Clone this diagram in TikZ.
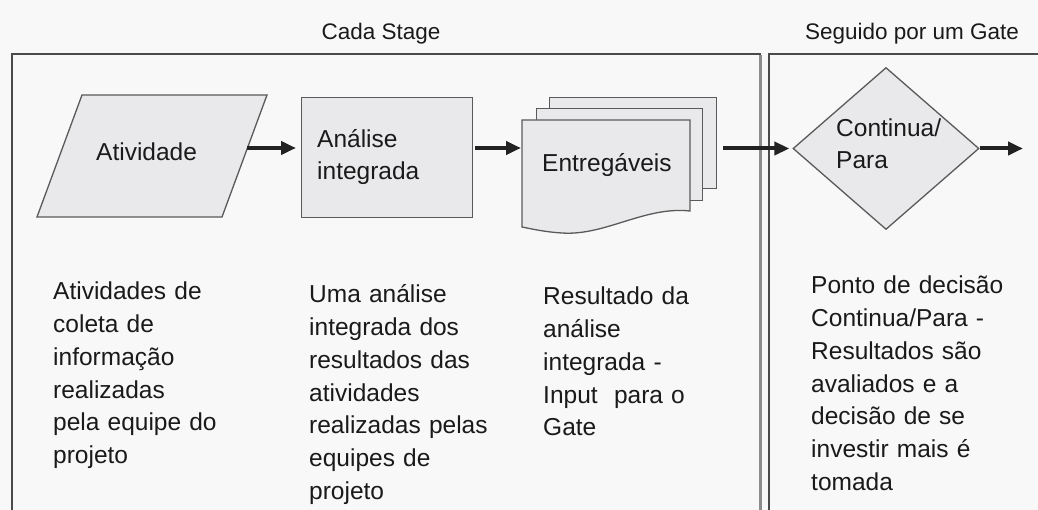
\documentclass[tikz,border=0pt]{standalone}
\usepackage{fontspec}
\setmainfont{Liberation Sans}
\usetikzlibrary{arrows.meta,shapes.geometric}
\definecolor{bg}{HTML}{F8F8F8}
\definecolor{shapefill}{HTML}{E9E9EB}
\definecolor{shapeline}{HTML}{5A5A5A}
\definecolor{frameline}{HTML}{4A4A4A}
\definecolor{framelight}{HTML}{8C8C8C}
\definecolor{ink}{HTML}{1A1A1A}
\definecolor{arrowc}{HTML}{222222}
\begin{document}
\begin{tikzpicture}[x=1pt,y=-1pt,
  shp/.style={draw=shapeline,fill=shapefill,line width=1.3pt},
  boxshape/.style={shp,rectangle,inner sep=0pt,anchor=north west},
  lbl/.style={anchor=base west,inner sep=0pt,text=ink,font=\fontsize{24.5}{32.7}\selectfont,align=left,text width=215pt},
  slbl/.style={anchor=base west,inner sep=0pt,text=ink,font=\fontsize{24.5}{32}\selectfont,align=left,text width=150pt},
  ttl/.style={anchor=base,inner sep=0pt,text=ink,font=\fontsize{22.5}{27}\selectfont},
  flow/.style={draw=arrowc,line width=4pt,-{Triangle[length=15pt,width=13pt]}},
  frame/.style={draw=frameline,line width=2pt}]
\fill[bg] (0,0) rectangle (1038,510);
\useasboundingbox (0,0) rectangle (1038,510);

% frames
\draw[frame] (12,515) -- (12,54) -- (760,54) -- (760,515);
\draw[draw=framelight,line width=3pt] (760,55) -- (760,515);
\draw[frame] (769,515) -- (769,54) -- (1045,54);

% titles
\node[ttl] (t1) at (381,40) {Cada Stage};
\node[ttl] (t2) at (912,40) {Seguido por um Gate};

% parallelogram
\draw[shp] (82,95) -- (267,95) -- (222,217) -- (37,217) -- cycle;
\coordinate (atv-e) at (247.4,148);
\node[slbl] (atv) at (96,161) {Atividade};

% rectangle
\node[boxshape,minimum width=171pt,minimum height=120pt] (ana) at (301,97) {};
\node[slbl] (anatxt) at (317,148) {Análise\\integrada};

% documents
\node[boxshape,minimum width=167pt,minimum height=91pt] (doc3) at (549,97) {};
\node[boxshape,minimum width=166pt,minimum height=92pt] (doc2) at (536,108) {};
\draw[shp] (522,120) -- (690,120) -- (690,211)
  .. controls (645,206) and (605,236) .. (562,233)
  .. controls (545,232) and (532,229) .. (522,227) -- cycle;
\coordinate (doc-w) at (522,148);
\node[slbl] (doctxt) at (542,172) {Entregáveis};

% diamond
\node[shp,diamond,minimum width=186pt,minimum height=162pt,inner sep=0pt] (gate) at (886,148.5) {};
\node[slbl] (gatetxt) at (836,137) {Continua/\\Para};
\coordinate (out) at (1023,148.5);

% connectors
\draw[flow,shorten >=5pt] (atv-e) -- (atv-e -| ana.west);
\draw[flow,shorten <=2pt,shorten >=1pt] (atv-e -| ana.east) -- (doc-w);
\draw[flow,shorten <=6pt,shorten >=3pt] (doc3.east |- gate.west) -- (gate.west);
\draw[flow] (gate.east) -- (out);

% descriptions
\node[lbl] (d1) at (53,300) {Atividades de\\coleta de\\informação\\realizadas\\pela equipe do\\projeto};
\node[lbl] (d2) at (309,303) {Uma análise\\integrada dos\\resultados das\\atividades\\realizadas pelas\\equipes de\\projeto};
\node[lbl] (d3) at (543,305) {Resultado da\\análise\\integrada -\\Input\ \ para o\\Gate};
\node[lbl] (d4) at (811,294) {Ponto de decisão\\Continua/Para -\\Resultados são\\avaliados e a\\decisão de se\\investir mais é\\tomada};
\end{tikzpicture}
\end{document}
